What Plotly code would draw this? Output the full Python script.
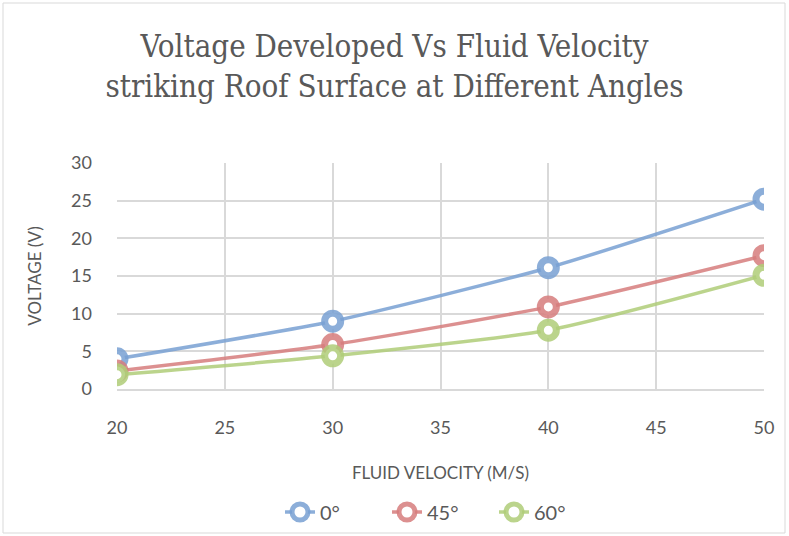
import plotly.graph_objects as go

velocity = [20, 30, 40, 50]
v_0 = [4.0, 9.0, 16.1, 25.2]
v_45 = [2.4, 5.9, 10.9, 17.7]
v_60 = [1.9, 4.4, 7.8, 15.1]
series_names = ["0°", "45°", "60°"]
colors = ["rgba(120,160,210,0.85)", "rgba(214,125,125,0.85)", "rgba(175,205,120,0.85)"]

fig = go.Figure()
for name, vals, col in zip(series_names, [v_0, v_45, v_60], colors):
    fig.add_trace(go.Scatter(
        x=velocity, y=vals, name=name, mode="lines+markers",
        line=dict(color=col, width=3.5, shape="spline", smoothing=0.6),
        marker=dict(symbol="circle", size=16, color="white",
                    line=dict(color=col, width=7)),
    ))

W, H = 789, 536
L, R, T, B = 117, 25, 163, 147
pw, ph = W - L - R, H - T - B

fig.update_layout(
    width=W, height=H,
    margin=dict(l=L, r=R, t=T, b=B, autoexpand=False),
    paper_bgcolor="white", plot_bgcolor="white",
    title=dict(
        text="Voltage Developed Vs Fluid Velocity<br>striking Roof Surface at Different Angles",
        x=0.5, xanchor="center", y=1 - 57 / H, yanchor="middle",
        font=dict(family="DejaVu Serif Condensed, Liberation Serif, serif", size=31, color="#595959"),
    ),
    font=dict(family="Lato, Liberation Sans, sans-serif", color="#595959", size=17),
    showlegend=True,
    legend=dict(orientation="h", x=0.5, xanchor="center", y=-(512 - 389) / ph, yanchor="middle",
                font=dict(size=20, color="#595959"), entrywidth=62, entrywidthmode="pixels",
                tracegroupgap=0),
    shapes=[dict(type="rect", xref="paper", yref="paper",
                 x0=-(L - 3) / pw, x1=1 + (R - 4) / pw,
                 y0=-(B - 3) / ph, y1=1 + (T - 3) / ph,
                 line=dict(color="#D9D9D9", width=1), layer="below")],
)
fig.update_xaxes(
    range=[20, 50], tickvals=[20, 25, 30, 35, 40, 45, 50], automargin=False,
    showgrid=True, gridcolor="#D9D9D9", gridwidth=1.5,
    showline=True, linecolor="#D9D9D9", linewidth=1.5,
    zeroline=False, ticks="", ticklabelstandoff=22,
    tickfont=dict(size=18, color="#595959"),
    title=dict(text="FLUID VELOCITY (M/S)", font=dict(size=17, color="#595959"), standoff=30),
)
fig.update_yaxes(
    range=[0, 30], tickvals=[0, 5, 10, 15, 20, 25, 30], automargin=False,
    showgrid=True, gridcolor="#D9D9D9", gridwidth=1.5,
    zeroline=False, ticks="", ticklabelstandoff=24,
    tickfont=dict(size=18, color="#595959"),
    title=dict(text="VOLTAGE (V)", font=dict(size=17, color="#595959"), standoff=25),
)

fig.write_html("out.html", config={"displayModeBar": False},
               post_script="document.body.style.margin='0';")
